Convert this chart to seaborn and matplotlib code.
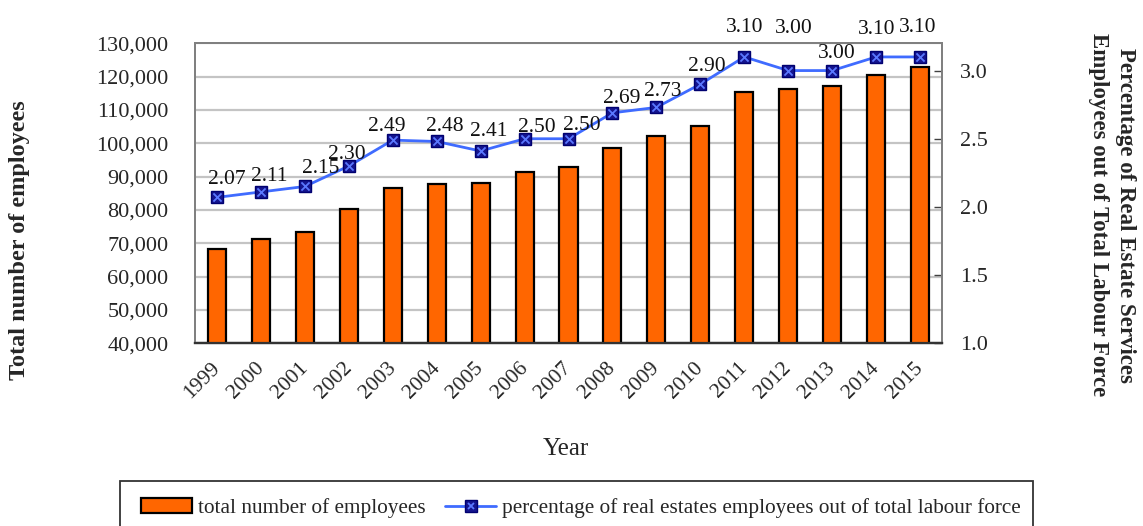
import numpy as np
import pandas as pd
import matplotlib
matplotlib.use("Agg")
import matplotlib.pyplot as plt
from matplotlib.patches import Patch, Rectangle
from matplotlib.lines import Line2D
from matplotlib.legend_handler import HandlerTuple
from matplotlib.transforms import ScaledTranslation
import seaborn as sns

# ---- data -------------------------------------------------------------
years = ["1999", "2000", "2001", "2002", "2003", "2004", "2005", "2006", "2007",
         "2008", "2009", "2010", "2011", "2012", "2013", "2014", "2015"]
employees = [68400, 71400, 73400, 80300, 86500, 87800, 88200, 91300, 92900,
             98600, 102300, 105100, 115500, 116400, 117200, 120600, 122800]
share_pct = [2.07, 2.11, 2.15, 2.30, 2.49, 2.48, 2.41, 2.50, 2.50,
             2.69, 2.73, 2.90, 3.10, 3.00, 3.00, 3.10, 3.10]
left_ticks = [40000, 50000, 60000, 70000, 80000, 90000, 100000, 110000, 120000, 130000]
right_ticks = [1.0, 1.5, 2.0, 2.5, 3.0]

# label offsets (pixels) so the value tags do not collide
label_offsets = [(10, 20), (8, 18), (16, 20), (-2, 14), (-6, 16), (8, 17), (8, 22),
                 (12, 14), (13, 16), (9, 17), (6, 18), (6, 20), (0, 32), (6, 45),
                 (5, 20), (1, 30), (-2, 32)]

# ---- style ------------------------------------------------------------
sns.set_style("white")
plt.rcParams["font.family"] = ["Liberation Serif", "DejaVu Serif"]

BAR_COLOR = "#FF6600"
LINE_COLOR = "#3F6BFF"
MARK_FACE = "#15158F"
MARK_EDGE = "#000070"
X_COLOR = "#5A78FF"
GRID = "#C4C4C4"
FRAME = "#808080"

W, H = 1143, 526
fig = plt.figure(figsize=(W / 100, H / 100), dpi=100)
ax = fig.add_axes([195 / W, (H - 343.3) / H, (942 - 195) / W, (343.3 - 43.3) / H])

df = pd.DataFrame({"year": years, "employees": employees, "share": share_pct})
pos = np.arange(len(years))

# bars: total employees on the left axis
sns.barplot(data=df, x="year", y="employees", color=BAR_COLOR, saturation=1,
            edgecolor="black", linewidth=1.6, width=0.41, ax=ax, zorder=3)
ax.set_ylim(40000, 130000)
ax.set_yticks(left_ticks)
ax.set_yticklabels([f"{v:,}" for v in left_ticks])
ax.yaxis.grid(True, color=GRID, linewidth=1.6, zorder=0)
ax.set_axisbelow(True)
ax.set_xlabel("")
ax.set_ylabel("")
ax.tick_params(axis="y", length=0, pad=19, labelsize=16)
ax.set_xticks(pos)
ax.set_xticklabels(years, rotation=45, ha="right", va="top",
                   rotation_mode="default", fontsize=15.5)
ax.tick_params(axis="x", which="major", length=0, pad=11)
shift = ScaledTranslation(7 / 100, 0, fig.dpi_scale_trans)
for lbl in ax.get_xticklabels():
    lbl.set_transform(lbl.get_transform() + shift)
ax.set_xticks(np.arange(-0.5, len(years), 1), minor=True)
ax.tick_params(axis="x", which="minor", direction="in", length=5, width=1, color="#404040")

# line: share of labour force on the right axis
ax2 = ax.twinx()
line_df = pd.DataFrame({"pos": pos, "share": share_pct})
sns.lineplot(data=line_df, x="pos", y="share", ax=ax2, color=LINE_COLOR, linewidth=2,
             marker="s", markersize=8, markerfacecolor=MARK_FACE,
             markeredgecolor=MARK_EDGE, markeredgewidth=1, zorder=4)
sns.scatterplot(data=line_df, x="pos", y="share", ax=ax2, marker="x", s=34,
                color=X_COLOR, linewidth=1.3, zorder=5)
ax2.set_ylim(1.0, 3.2)
ax2.set_yticks(right_ticks)
ax2.set_yticklabels([f"{v:.1f}" for v in right_ticks])
ax2.tick_params(axis="y", direction="in", length=6, width=1, color="#404040",
                pad=13, labelsize=16)
ax2.set_xlabel("")
ax2.set_ylabel("")
ax.set_xlim(-0.5, len(years) - 0.5)

for i, (v, (dx, dy)) in enumerate(zip(share_pct, label_offsets)):
    ax2.annotate(f"{v:.2f}", xy=(i, v), xytext=(dx, dy), textcoords="offset pixels",
                 ha="center", va="center_baseline", fontsize=15.5, color="#111111",
                 zorder=6)

for a in (ax, ax2):
    for side in ("top", "left", "right"):
        a.spines[side].set_color(FRAME)
        a.spines[side].set_linewidth(1.4)
    a.spines["bottom"].set_color("#333333")
    a.spines["bottom"].set_linewidth(1.6)

# axis titles
fig.text(20 / W, 1 - 240 / H, "Total number of employees", rotation=90,
         ha="center", va="center", fontsize=17.5, fontweight="bold")
fig.text(1112 / W, 1 - 215 / H,
         "Percentage of Real Estate Services\nEmployees out of Total Labour Force",
         rotation=270, ha="center", va="center", multialignment="center",
         fontsize=16.5, fontweight="bold", linespacing=1.4)
fig.text(566 / W, 1 - 449 / H, "Year", ha="center", va="center", fontsize=18)

# legend with its own frame running off the bottom edge
fig.patches.append(Rectangle((120 / W, -0.05), (1033 - 120) / W, (H - 481) / H + 0.05,
                             transform=fig.transFigure, fill=False,
                             edgecolor="#333333", linewidth=1.3))
bar_handle = Patch(facecolor=BAR_COLOR, edgecolor="black", linewidth=1.6)
line_handle = Line2D([], [], color=LINE_COLOR, linewidth=2, marker="s", markersize=8,
                     markerfacecolor=MARK_FACE, markeredgecolor=MARK_EDGE)
x_handle = Line2D([], [], linestyle="none", marker="x", markersize=5,
                  color=X_COLOR, markeredgewidth=1.3)
fig.legend([bar_handle, (line_handle, x_handle)],
           ["total number of employees",
            "percentage of real estates employees out of total labour force"],
           handler_map={tuple: HandlerTuple(ndivide=1)},
           loc="center", bbox_to_anchor=(581 / W, 1 - 508 / H), ncol=2,
           frameon=False, fontsize=15.3, handlelength=2.4, handletextpad=0.3,
           columnspacing=0.9)

fig.savefig("out.png", dpi=100)
